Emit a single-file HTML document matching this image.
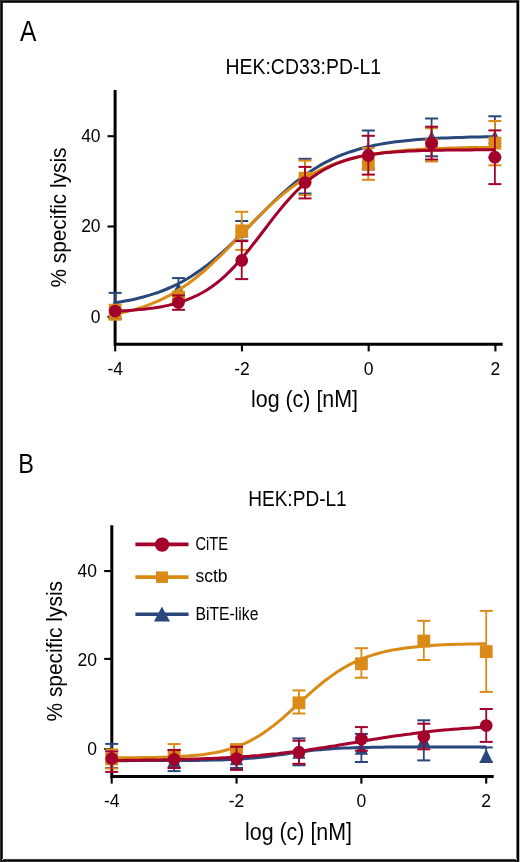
<!DOCTYPE html>
<html><head><meta charset="utf-8"><style>
html,body{margin:0;padding:0;background:#fff;width:520px;height:862px;overflow:hidden}
svg{display:block}
text{font-family:"Liberation Sans",sans-serif;fill:#000}
.t{filter:grayscale(1)}
</style></head><body>
<svg width="520" height="862" viewBox="0 0 520 862">
<g>
<rect x="0" y="0" width="520" height="862" fill="#fff"/>
<rect x="0" y="0" width="520" height="1" fill="#333" shape-rendering="crispEdges"/>
<rect x="0" y="861" width="520" height="1" fill="#333" shape-rendering="crispEdges"/>
<rect x="0" y="0" width="1" height="862" fill="#333" shape-rendering="crispEdges"/>
<rect x="519" y="0" width="1" height="862" fill="#bbb" shape-rendering="crispEdges"/>
<rect x="1" y="1" width="1" height="860" fill="#000" shape-rendering="crispEdges"/>
<rect x="1" y="1" width="517" height="1" fill="#000" shape-rendering="crispEdges"/>
<rect x="517" y="1" width="2" height="860" fill="#000" shape-rendering="crispEdges"/>
<rect x="1" y="860" width="518" height="1" fill="#000" shape-rendering="crispEdges"/>
<rect x="2" y="2" width="1" height="857" fill="#3a3a3a" shape-rendering="crispEdges"/>
<rect x="2" y="2" width="515" height="1" fill="#3a3a3a" shape-rendering="crispEdges"/>
<rect x="516" y="3" width="1" height="856" fill="#777" shape-rendering="crispEdges"/>
<rect x="3" y="859" width="513" height="1" fill="#444" shape-rendering="crispEdges"/>
<rect x="3" y="858" width="513" height="1" fill="#eee" shape-rendering="crispEdges"/>
<text class="t" transform="translate(20,40.9) scale(0.85,1)" font-size="28.9">A</text>
<text class="t" transform="translate(18.2,473.1) scale(0.84,1)" font-size="28">B</text>
<text class="t" x="225.5" y="74.2" font-size="22" text-anchor="start" textLength="155.5" lengthAdjust="spacingAndGlyphs">HEK:CD33:PD-L1</text>
<text class="t" x="248.2" y="506.3" font-size="22" text-anchor="start" textLength="98.5" lengthAdjust="spacingAndGlyphs">HEK:PD-L1</text>
<path d="M115.1,90 V345.6 M113.7,344.2 H502.7" stroke="#000" stroke-width="3" fill="none"/>
<line x1="107.5" y1="136.2" x2="115.2" y2="136.2" stroke="#000" stroke-width="2.1"/>
<line x1="107.5" y1="226.5" x2="115.2" y2="226.5" stroke="#000" stroke-width="2.1"/>
<line x1="107.5" y1="316.85" x2="115.2" y2="316.85" stroke="#000" stroke-width="2.1"/>
<line x1="115.2" y1="344.2" x2="115.2" y2="351.4" stroke="#000" stroke-width="2.1"/>
<line x1="241.94" y1="344.2" x2="241.94" y2="351.4" stroke="#000" stroke-width="2.1"/>
<line x1="368.68" y1="344.2" x2="368.68" y2="351.4" stroke="#000" stroke-width="2.1"/>
<line x1="495.41999999999996" y1="344.2" x2="495.41999999999996" y2="351.4" stroke="#000" stroke-width="2.1"/>
<path d="M111.8,525.2 V777.9 M110.3,776.5 H493.7" stroke="#000" stroke-width="3" fill="none"/>
<line x1="104.2" y1="571.05" x2="111.7" y2="571.05" stroke="#000" stroke-width="2.1"/>
<line x1="104.2" y1="658.9" x2="111.7" y2="658.9" stroke="#000" stroke-width="2.1"/>
<line x1="104.2" y1="749.1" x2="111.7" y2="749.1" stroke="#000" stroke-width="2.1"/>
<line x1="111.7" y1="776.45" x2="111.7" y2="783.6" stroke="#000" stroke-width="2.1"/>
<line x1="236.54000000000002" y1="776.45" x2="236.54000000000002" y2="783.6" stroke="#000" stroke-width="2.1"/>
<line x1="361.38" y1="776.45" x2="361.38" y2="783.6" stroke="#000" stroke-width="2.1"/>
<line x1="486.21999999999997" y1="776.45" x2="486.21999999999997" y2="783.6" stroke="#000" stroke-width="2.1"/>
<text class="t" x="100.6" y="141.7" font-size="17.5" text-anchor="end" >40</text>
<text class="t" x="100.6" y="232.2" font-size="17.5" text-anchor="end" >20</text>
<text class="t" x="100.6" y="322.5" font-size="17.5" text-anchor="end" >0</text>
<text class="t" x="115.2" y="374.9" font-size="17.5" text-anchor="middle" >-4</text>
<text class="t" x="241.94" y="374.9" font-size="17.5" text-anchor="middle" >-2</text>
<text class="t" x="368.68" y="374.9" font-size="17.5" text-anchor="middle" >0</text>
<text class="t" x="495.41999999999996" y="374.9" font-size="17.5" text-anchor="middle" >2</text>
<text class="t" x="97" y="576.7" font-size="17.5" text-anchor="end" >40</text>
<text class="t" x="97" y="666" font-size="17.5" text-anchor="end" >20</text>
<text class="t" x="97" y="754.5" font-size="17.5" text-anchor="end" >0</text>
<text class="t" x="111.7" y="806.9" font-size="17.5" text-anchor="middle" >-4</text>
<text class="t" x="236.54000000000002" y="806.9" font-size="17.5" text-anchor="middle" >-2</text>
<text class="t" x="361.38" y="806.9" font-size="17.5" text-anchor="middle" >0</text>
<text class="t" x="486.21999999999997" y="806.9" font-size="17.5" text-anchor="middle" >2</text>
<text class="t" x="251" y="407.1" font-size="23.2" text-anchor="start" textLength="107" lengthAdjust="spacingAndGlyphs">log (c) [nM]</text>
<text class="t" x="245" y="839.6" font-size="23.1" text-anchor="start" textLength="107" lengthAdjust="spacingAndGlyphs">log (c) [nM]</text>
<text class="t" transform="translate(65.6,287.5) rotate(-90)" font-size="22.3" textLength="140" lengthAdjust="spacingAndGlyphs">% specific lysis</text>
<text class="t" transform="translate(62.3,721.5) rotate(-90)" font-size="22.3" textLength="140.5" lengthAdjust="spacingAndGlyphs">% specific lysis</text>
<polyline points="115.2,302.7 120.0,301.9 124.8,301.1 129.6,300.2 134.4,299.2 139.2,298.0 144.0,296.8 148.8,295.4 153.6,293.9 158.4,292.3 163.2,290.5 168.0,288.5 172.8,286.4 177.6,284.0 182.5,281.5 187.3,278.7 192.1,275.8 196.9,272.6 201.7,269.3 206.5,265.7 211.3,261.9 216.1,257.9 220.9,253.7 225.7,249.3 230.5,244.8 235.3,240.2 240.1,235.4 244.9,230.6 249.7,225.7 254.5,220.8 259.4,215.9 264.2,211.0 269.0,206.2 273.8,201.6 278.6,197.0 283.4,192.6 288.2,188.4 293.0,184.3 297.8,180.5 302.6,176.8 307.4,173.4 312.2,170.2 317.0,167.2 321.8,164.4 326.6,161.8 331.5,159.4 336.3,157.2 341.1,155.2 345.9,153.4 350.7,151.7 355.5,150.2 360.3,148.8 365.1,147.5 369.9,146.4 374.7,145.3 379.5,144.4 384.3,143.5 389.1,142.8 393.9,142.1 398.7,141.5 403.5,140.9 408.4,140.4 413.2,140.0 418.0,139.6 422.8,139.2 427.6,138.9 432.4,138.6 437.2,138.3 442.0,138.1 446.8,137.9 451.6,137.7 456.4,137.5 461.2,137.4 466.0,137.2 470.8,137.1 475.6,137.0 480.5,136.9 485.3,136.8 490.1,136.8 494.9,136.7" fill="none" stroke="#2a477c" stroke-width="3" stroke-linejoin="round"/><line x1="115.16" y1="292.9" x2="115.16" y2="318.7" stroke="#2a477c" stroke-width="1.8"/><line x1="108.66" y1="292.9" x2="121.66" y2="292.9" stroke="#2a477c" stroke-width="2"/><line x1="108.66" y1="318.7" x2="121.66" y2="318.7" stroke="#2a477c" stroke-width="2"/><line x1="178.445" y1="278.1" x2="178.445" y2="299.3" stroke="#2a477c" stroke-width="1.8"/><line x1="171.945" y1="278.1" x2="184.945" y2="278.1" stroke="#2a477c" stroke-width="2"/><line x1="171.945" y1="299.3" x2="184.945" y2="299.3" stroke="#2a477c" stroke-width="2"/><line x1="241.73" y1="221" x2="241.73" y2="240.5" stroke="#2a477c" stroke-width="1.8"/><line x1="235.23" y1="221" x2="248.23" y2="221" stroke="#2a477c" stroke-width="2"/><line x1="235.23" y1="240.5" x2="248.23" y2="240.5" stroke="#2a477c" stroke-width="2"/><line x1="305.015" y1="158.8" x2="305.015" y2="193.5" stroke="#2a477c" stroke-width="1.8"/><line x1="298.515" y1="158.8" x2="311.515" y2="158.8" stroke="#2a477c" stroke-width="2"/><line x1="298.515" y1="193.5" x2="311.515" y2="193.5" stroke="#2a477c" stroke-width="2"/><line x1="368.29999999999995" y1="130.5" x2="368.29999999999995" y2="169.5" stroke="#2a477c" stroke-width="1.8"/><line x1="361.79999999999995" y1="130.5" x2="374.79999999999995" y2="130.5" stroke="#2a477c" stroke-width="2"/><line x1="361.79999999999995" y1="169.5" x2="374.79999999999995" y2="169.5" stroke="#2a477c" stroke-width="2"/><line x1="431.5849999999999" y1="118.5" x2="431.5849999999999" y2="156.3" stroke="#2a477c" stroke-width="1.8"/><line x1="425.0849999999999" y1="118.5" x2="438.0849999999999" y2="118.5" stroke="#2a477c" stroke-width="2"/><line x1="425.0849999999999" y1="156.3" x2="438.0849999999999" y2="156.3" stroke="#2a477c" stroke-width="2"/><line x1="494.87" y1="116.3" x2="494.87" y2="157.7" stroke="#2a477c" stroke-width="1.8"/><line x1="488.37" y1="116.3" x2="501.37" y2="116.3" stroke="#2a477c" stroke-width="2"/><line x1="488.37" y1="157.7" x2="501.37" y2="157.7" stroke="#2a477c" stroke-width="2"/><polygon points="115.16,299.0 121.81,312.6 108.50999999999999,312.6" fill="#2a477c"/><polygon points="178.445,281.9 185.095,295.5 171.795,295.5" fill="#2a477c"/><polygon points="241.73,223.95 248.38,237.55 235.07999999999998,237.55" fill="#2a477c"/><polygon points="305.015,169.35 311.66499999999996,182.95000000000002 298.365,182.95000000000002" fill="#2a477c"/><polygon points="368.29999999999995,143.2 374.94999999999993,156.8 361.65,156.8" fill="#2a477c"/><polygon points="431.5849999999999,130.5 438.2349999999999,144.10000000000002 424.93499999999995,144.10000000000002" fill="#2a477c"/><polygon points="494.87,130.2 501.52,143.8 488.22,143.8" fill="#2a477c"/>
<polyline points="115.2,314.1 120.0,313.1 124.8,312.1 129.6,310.9 134.4,309.6 139.2,308.1 144.0,306.6 148.8,304.8 153.6,302.9 158.4,300.9 163.2,298.6 168.0,296.2 172.8,293.5 177.6,290.6 182.5,287.5 187.3,284.2 192.1,280.7 196.9,276.9 201.7,273.0 206.5,268.8 211.3,264.5 216.1,259.9 220.9,255.3 225.7,250.5 230.5,245.6 235.3,240.6 240.1,235.6 244.9,230.6 249.7,225.6 254.5,220.6 259.4,215.8 264.2,211.1 269.0,206.5 273.8,202.1 278.6,197.8 283.4,193.8 288.2,190.0 293.0,186.4 297.8,183.0 302.6,179.8 307.4,176.9 312.2,174.1 317.0,171.6 321.8,169.3 326.6,167.1 331.5,165.2 336.3,163.4 341.1,161.7 345.9,160.3 350.7,158.9 355.5,157.7 360.3,156.6 365.1,155.6 369.9,154.7 374.7,153.9 379.5,153.2 384.3,152.5 389.1,151.9 393.9,151.4 398.7,150.9 403.5,150.5 408.4,150.1 413.2,149.8 418.0,149.5 422.8,149.2 427.6,148.9 432.4,148.7 437.2,148.5 442.0,148.4 446.8,148.2 451.6,148.1 456.4,147.9 461.2,147.8 466.0,147.7 470.8,147.6 475.6,147.6 480.5,147.5 485.3,147.4 490.1,147.4 494.9,147.3" fill="none" stroke="#da8a16" stroke-width="3" stroke-linejoin="round"/><line x1="115.16" y1="304.8" x2="115.16" y2="319.7" stroke="#da8a16" stroke-width="1.8"/><line x1="108.66" y1="304.8" x2="121.66" y2="304.8" stroke="#da8a16" stroke-width="2"/><line x1="108.66" y1="319.7" x2="121.66" y2="319.7" stroke="#da8a16" stroke-width="2"/><line x1="178.445" y1="292.6" x2="178.445" y2="301.6" stroke="#da8a16" stroke-width="1.8"/><line x1="171.945" y1="292.6" x2="184.945" y2="292.6" stroke="#da8a16" stroke-width="2"/><line x1="171.945" y1="301.6" x2="184.945" y2="301.6" stroke="#da8a16" stroke-width="2"/><line x1="241.73" y1="211.8" x2="241.73" y2="249.9" stroke="#da8a16" stroke-width="1.8"/><line x1="235.23" y1="211.8" x2="248.23" y2="211.8" stroke="#da8a16" stroke-width="2"/><line x1="235.23" y1="249.9" x2="248.23" y2="249.9" stroke="#da8a16" stroke-width="2"/><line x1="305.015" y1="160.6" x2="305.015" y2="195.1" stroke="#da8a16" stroke-width="1.8"/><line x1="298.515" y1="160.6" x2="311.515" y2="160.6" stroke="#da8a16" stroke-width="2"/><line x1="298.515" y1="195.1" x2="311.515" y2="195.1" stroke="#da8a16" stroke-width="2"/><line x1="368.29999999999995" y1="148.1" x2="368.29999999999995" y2="179.8" stroke="#da8a16" stroke-width="1.8"/><line x1="361.79999999999995" y1="148.1" x2="374.79999999999995" y2="148.1" stroke="#da8a16" stroke-width="2"/><line x1="361.79999999999995" y1="179.8" x2="374.79999999999995" y2="179.8" stroke="#da8a16" stroke-width="2"/><line x1="431.5849999999999" y1="128.2" x2="431.5849999999999" y2="161.5" stroke="#da8a16" stroke-width="1.8"/><line x1="425.0849999999999" y1="128.2" x2="438.0849999999999" y2="128.2" stroke="#da8a16" stroke-width="2"/><line x1="425.0849999999999" y1="161.5" x2="438.0849999999999" y2="161.5" stroke="#da8a16" stroke-width="2"/><line x1="494.87" y1="121" x2="494.87" y2="165.3" stroke="#da8a16" stroke-width="1.8"/><line x1="488.37" y1="121" x2="501.37" y2="121" stroke="#da8a16" stroke-width="2"/><line x1="488.37" y1="165.3" x2="501.37" y2="165.3" stroke="#da8a16" stroke-width="2"/><rect x="108.75999999999999" y="305.85" width="12.8" height="12.8" fill="#da8a16"/><rect x="172.045" y="290.70000000000005" width="12.8" height="12.8" fill="#da8a16"/><rect x="235.32999999999998" y="224.45" width="12.8" height="12.8" fill="#da8a16"/><rect x="298.615" y="171.79999999999998" width="12.8" height="12.8" fill="#da8a16"/><rect x="361.9" y="157.7" width="12.8" height="12.8" fill="#da8a16"/><rect x="425.18499999999995" y="138.45" width="12.8" height="12.8" fill="#da8a16"/><rect x="488.47" y="136.75" width="12.8" height="12.8" fill="#da8a16"/>
<polyline points="115.2,311.2 120.0,311.0 124.8,310.7 129.6,310.4 134.4,310.1 139.2,309.6 144.0,309.2 148.8,308.6 153.6,308.0 158.4,307.2 163.2,306.4 168.0,305.4 172.8,304.2 177.6,302.9 182.5,301.4 187.3,299.7 192.1,297.7 196.9,295.5 201.7,293.0 206.5,290.2 211.3,287.0 216.1,283.5 220.9,279.6 225.7,275.3 230.5,270.6 235.3,265.6 240.1,260.3 244.9,254.6 249.7,248.7 254.5,242.5 259.4,236.3 264.2,230.0 269.0,223.6 273.8,217.4 278.6,211.4 283.4,205.5 288.2,200.0 293.0,194.7 297.8,189.8 302.6,185.3 307.4,181.2 312.2,177.4 317.0,174.0 321.8,171.0 326.6,168.3 331.5,165.8 336.3,163.7 341.1,161.8 345.9,160.2 350.7,158.8 355.5,157.5 360.3,156.4 365.1,155.5 369.9,154.7 374.7,154.0 379.5,153.4 384.3,152.8 389.1,152.4 393.9,152.0 398.7,151.7 403.5,151.4 408.4,151.1 413.2,150.9 418.0,150.7 422.8,150.6 427.6,150.5 432.4,150.3 437.2,150.2 442.0,150.2 446.8,150.1 451.6,150.0 456.4,150.0 461.2,149.9 466.0,149.9 470.8,149.9 475.6,149.8 480.5,149.8 485.3,149.8 490.1,149.8 494.9,149.7" fill="none" stroke="#a3002c" stroke-width="3" stroke-linejoin="round"/><line x1="178.445" y1="295.4" x2="178.445" y2="309.8" stroke="#a3002c" stroke-width="1.8"/><line x1="171.945" y1="295.4" x2="184.945" y2="295.4" stroke="#a3002c" stroke-width="2"/><line x1="171.945" y1="309.8" x2="184.945" y2="309.8" stroke="#a3002c" stroke-width="2"/><line x1="241.73" y1="241.1" x2="241.73" y2="279.1" stroke="#a3002c" stroke-width="1.8"/><line x1="235.23" y1="241.1" x2="248.23" y2="241.1" stroke="#a3002c" stroke-width="2"/><line x1="235.23" y1="279.1" x2="248.23" y2="279.1" stroke="#a3002c" stroke-width="2"/><line x1="305.015" y1="166.9" x2="305.015" y2="198.4" stroke="#a3002c" stroke-width="1.8"/><line x1="298.515" y1="166.9" x2="311.515" y2="166.9" stroke="#a3002c" stroke-width="2"/><line x1="298.515" y1="198.4" x2="311.515" y2="198.4" stroke="#a3002c" stroke-width="2"/><line x1="368.29999999999995" y1="135.8" x2="368.29999999999995" y2="174.6" stroke="#a3002c" stroke-width="1.8"/><line x1="361.79999999999995" y1="135.8" x2="374.79999999999995" y2="135.8" stroke="#a3002c" stroke-width="2"/><line x1="361.79999999999995" y1="174.6" x2="374.79999999999995" y2="174.6" stroke="#a3002c" stroke-width="2"/><line x1="431.5849999999999" y1="126.7" x2="431.5849999999999" y2="159.5" stroke="#a3002c" stroke-width="1.8"/><line x1="425.0849999999999" y1="126.7" x2="438.0849999999999" y2="126.7" stroke="#a3002c" stroke-width="2"/><line x1="425.0849999999999" y1="159.5" x2="438.0849999999999" y2="159.5" stroke="#a3002c" stroke-width="2"/><line x1="494.87" y1="130.4" x2="494.87" y2="184.1" stroke="#a3002c" stroke-width="1.8"/><line x1="488.37" y1="130.4" x2="501.37" y2="130.4" stroke="#a3002c" stroke-width="2"/><line x1="488.37" y1="184.1" x2="501.37" y2="184.1" stroke="#a3002c" stroke-width="2"/><circle cx="115.16" cy="311.05" r="6.35" fill="#a3002c"/><circle cx="178.445" cy="302.6" r="6.35" fill="#a3002c"/><circle cx="241.73" cy="260.4" r="6.35" fill="#a3002c"/><circle cx="305.015" cy="182.5" r="6.35" fill="#a3002c"/><circle cx="368.29999999999995" cy="155.4" r="6.35" fill="#a3002c"/><circle cx="431.5849999999999" cy="143.3" r="6.35" fill="#a3002c"/><circle cx="494.87" cy="157.2" r="6.35" fill="#a3002c"/>
<polyline points="111.7,760.7 116.4,760.7 121.2,760.7 125.9,760.7 130.7,760.6 135.4,760.6 140.1,760.6 144.9,760.6 149.6,760.6 154.4,760.6 159.1,760.6 163.8,760.6 168.6,760.6 173.3,760.6 178.1,760.5 182.8,760.5 187.5,760.5 192.3,760.4 197.0,760.4 201.8,760.3 206.5,760.2 211.3,760.1 216.0,760.0 220.7,759.9 225.5,759.7 230.2,759.5 235.0,759.3 239.7,759.0 244.4,758.7 249.2,758.3 253.9,757.9 258.7,757.4 263.4,756.9 268.1,756.4 272.9,755.8 277.6,755.1 282.4,754.5 287.1,753.8 291.8,753.1 296.6,752.4 301.3,751.8 306.1,751.2 310.8,750.6 315.5,750.1 320.3,749.7 325.0,749.3 329.8,748.9 334.5,748.6 339.2,748.3 344.0,748.1 348.7,747.9 353.5,747.7 358.2,747.6 362.9,747.5 367.7,747.4 372.4,747.3 377.2,747.2 381.9,747.2 386.6,747.1 391.4,747.1 396.1,747.1 400.9,747.0 405.6,747.0 410.4,747.0 415.1,747.0 419.8,747.0 424.6,747.0 429.3,747.0 434.1,747.0 438.8,747.0 443.5,746.9 448.3,746.9 453.0,746.9 457.8,746.9 462.5,746.9 467.2,746.9 472.0,746.9 476.7,746.9 481.5,746.9 486.2,746.9" fill="none" stroke="#2a477c" stroke-width="3" stroke-linejoin="round"/><line x1="111.7" y1="743.9" x2="111.7" y2="768" stroke="#2a477c" stroke-width="1.8"/><line x1="105.2" y1="743.9" x2="118.2" y2="743.9" stroke="#2a477c" stroke-width="2"/><line x1="105.2" y1="768" x2="118.2" y2="768" stroke="#2a477c" stroke-width="2"/><line x1="174.12" y1="749.9" x2="174.12" y2="771.1" stroke="#2a477c" stroke-width="1.8"/><line x1="167.62" y1="749.9" x2="180.62" y2="749.9" stroke="#2a477c" stroke-width="2"/><line x1="167.62" y1="771.1" x2="180.62" y2="771.1" stroke="#2a477c" stroke-width="2"/><line x1="236.54000000000002" y1="749" x2="236.54000000000002" y2="768" stroke="#2a477c" stroke-width="1.8"/><line x1="230.04000000000002" y1="749" x2="243.04000000000002" y2="749" stroke="#2a477c" stroke-width="2"/><line x1="230.04000000000002" y1="768" x2="243.04000000000002" y2="768" stroke="#2a477c" stroke-width="2"/><line x1="298.96" y1="738.4" x2="298.96" y2="765.3" stroke="#2a477c" stroke-width="1.8"/><line x1="292.46" y1="738.4" x2="305.46" y2="738.4" stroke="#2a477c" stroke-width="2"/><line x1="292.46" y1="765.3" x2="305.46" y2="765.3" stroke="#2a477c" stroke-width="2"/><line x1="361.38" y1="733.9" x2="361.38" y2="762" stroke="#2a477c" stroke-width="1.8"/><line x1="354.88" y1="733.9" x2="367.88" y2="733.9" stroke="#2a477c" stroke-width="2"/><line x1="354.88" y1="762" x2="367.88" y2="762" stroke="#2a477c" stroke-width="2"/><line x1="423.8" y1="720.3" x2="423.8" y2="760.4" stroke="#2a477c" stroke-width="1.8"/><line x1="417.3" y1="720.3" x2="430.3" y2="720.3" stroke="#2a477c" stroke-width="2"/><line x1="417.3" y1="760.4" x2="430.3" y2="760.4" stroke="#2a477c" stroke-width="2"/><line x1="486.21999999999997" y1="747.4" x2="486.21999999999997" y2="762" stroke="#2a477c" stroke-width="1.8"/><line x1="479.71999999999997" y1="747.4" x2="492.71999999999997" y2="747.4" stroke="#2a477c" stroke-width="2"/><line x1="479.71999999999997" y1="762" x2="492.71999999999997" y2="762" stroke="#2a477c" stroke-width="2"/><polygon points="111.7,749.2 118.35000000000001,762.8 105.05,762.8" fill="#2a477c"/><polygon points="174.12,753.7 180.77,767.3 167.47,767.3" fill="#2a477c"/><polygon points="236.54000000000002,751.7 243.19000000000003,765.3 229.89000000000001,765.3" fill="#2a477c"/><polygon points="298.96,745.0500000000001 305.60999999999996,758.65 292.31,758.65" fill="#2a477c"/><polygon points="361.38,741.1500000000001 368.03,754.75 354.73,754.75" fill="#2a477c"/><polygon points="423.8,733.5500000000001 430.45,747.15 417.15000000000003,747.15" fill="#2a477c"/><polygon points="486.21999999999997,749.0 492.86999999999995,762.5999999999999 479.57,762.5999999999999" fill="#2a477c"/>
<polyline points="111.7,757.8 116.4,757.8 121.2,757.8 125.9,757.7 130.7,757.7 135.4,757.7 140.1,757.6 144.9,757.6 149.6,757.5 154.4,757.4 159.1,757.3 163.8,757.2 168.6,757.0 173.3,756.8 178.1,756.6 182.8,756.3 187.5,756.0 192.3,755.6 197.0,755.2 201.8,754.7 206.5,754.1 211.3,753.3 216.0,752.5 220.7,751.5 225.5,750.3 230.2,748.9 235.0,747.4 239.7,745.6 244.4,743.6 249.2,741.4 253.9,738.8 258.7,736.0 263.4,733.0 268.1,729.6 272.9,726.1 277.6,722.3 282.4,718.3 287.1,714.1 291.8,709.8 296.6,705.5 301.3,701.1 306.1,696.8 310.8,692.6 315.5,688.4 320.3,684.5 325.0,680.7 329.8,677.1 334.5,673.7 339.2,670.6 344.0,667.7 348.7,665.1 353.5,662.6 358.2,660.4 362.9,658.5 367.7,656.7 372.4,655.1 377.2,653.7 381.9,652.4 386.6,651.3 391.4,650.3 396.1,649.4 400.9,648.7 405.6,648.0 410.4,647.4 415.1,646.9 419.8,646.4 424.6,646.0 429.3,645.7 434.1,645.3 438.8,645.1 443.5,644.8 448.3,644.6 453.0,644.5 457.8,644.3 462.5,644.2 467.2,644.1 472.0,643.9 476.7,643.9 481.5,643.8 486.2,643.7" fill="none" stroke="#da8a16" stroke-width="3" stroke-linejoin="round"/><line x1="111.7" y1="749.4" x2="111.7" y2="768.4" stroke="#da8a16" stroke-width="1.8"/><line x1="105.2" y1="749.4" x2="118.2" y2="749.4" stroke="#da8a16" stroke-width="2"/><line x1="105.2" y1="768.4" x2="118.2" y2="768.4" stroke="#da8a16" stroke-width="2"/><line x1="174.12" y1="744.1" x2="174.12" y2="767.9" stroke="#da8a16" stroke-width="1.8"/><line x1="167.62" y1="744.1" x2="180.62" y2="744.1" stroke="#da8a16" stroke-width="2"/><line x1="167.62" y1="767.9" x2="180.62" y2="767.9" stroke="#da8a16" stroke-width="2"/><line x1="236.54000000000002" y1="745" x2="236.54000000000002" y2="754" stroke="#da8a16" stroke-width="1.8"/><line x1="230.04000000000002" y1="745" x2="243.04000000000002" y2="745" stroke="#da8a16" stroke-width="2"/><line x1="230.04000000000002" y1="754" x2="243.04000000000002" y2="754" stroke="#da8a16" stroke-width="2"/><line x1="298.96" y1="690.4" x2="298.96" y2="713.5" stroke="#da8a16" stroke-width="1.8"/><line x1="292.46" y1="690.4" x2="305.46" y2="690.4" stroke="#da8a16" stroke-width="2"/><line x1="292.46" y1="713.5" x2="305.46" y2="713.5" stroke="#da8a16" stroke-width="2"/><line x1="361.38" y1="648.2" x2="361.38" y2="677.7" stroke="#da8a16" stroke-width="1.8"/><line x1="354.88" y1="648.2" x2="367.88" y2="648.2" stroke="#da8a16" stroke-width="2"/><line x1="354.88" y1="677.7" x2="367.88" y2="677.7" stroke="#da8a16" stroke-width="2"/><line x1="423.8" y1="620.8" x2="423.8" y2="660" stroke="#da8a16" stroke-width="1.8"/><line x1="417.3" y1="620.8" x2="430.3" y2="620.8" stroke="#da8a16" stroke-width="2"/><line x1="417.3" y1="660" x2="430.3" y2="660" stroke="#da8a16" stroke-width="2"/><line x1="486.21999999999997" y1="610.9" x2="486.21999999999997" y2="691.9" stroke="#da8a16" stroke-width="1.8"/><line x1="479.71999999999997" y1="610.9" x2="492.71999999999997" y2="610.9" stroke="#da8a16" stroke-width="2"/><line x1="479.71999999999997" y1="691.9" x2="492.71999999999997" y2="691.9" stroke="#da8a16" stroke-width="2"/><rect x="105.3" y="752.5" width="12.8" height="12.8" fill="#da8a16"/><rect x="167.72" y="749.6" width="12.8" height="12.8" fill="#da8a16"/><rect x="230.14000000000001" y="743.1" width="12.8" height="12.8" fill="#da8a16"/><rect x="292.56" y="696.4" width="12.8" height="12.8" fill="#da8a16"/><rect x="354.98" y="657.4" width="12.8" height="12.8" fill="#da8a16"/><rect x="417.40000000000003" y="634.6" width="12.8" height="12.8" fill="#da8a16"/><rect x="479.82" y="645.2" width="12.8" height="12.8" fill="#da8a16"/>
<polyline points="111.7,760.4 116.4,760.4 121.2,760.4 125.9,760.3 130.7,760.3 135.4,760.2 140.1,760.2 144.9,760.1 149.6,760.0 154.4,759.9 159.1,759.9 163.8,759.8 168.6,759.7 173.3,759.6 178.1,759.5 182.8,759.3 187.5,759.2 192.3,759.1 197.0,758.9 201.8,758.8 206.5,758.6 211.3,758.4 216.0,758.2 220.7,757.9 225.5,757.7 230.2,757.4 235.0,757.2 239.7,756.9 244.4,756.5 249.2,756.2 253.9,755.8 258.7,755.5 263.4,755.0 268.1,754.6 272.9,754.1 277.6,753.7 282.4,753.1 287.1,752.6 291.8,752.0 296.6,751.4 301.3,750.8 306.1,750.2 310.8,749.5 315.5,748.8 320.3,748.1 325.0,747.4 329.8,746.6 334.5,745.9 339.2,745.1 344.0,744.3 348.7,743.5 353.5,742.7 358.2,741.9 362.9,741.1 367.7,740.3 372.4,739.5 377.2,738.8 381.9,738.0 386.6,737.3 391.4,736.5 396.1,735.8 400.9,735.2 405.6,734.5 410.4,733.9 415.1,733.2 419.8,732.7 424.6,732.1 429.3,731.6 434.1,731.0 438.8,730.6 443.5,730.1 448.3,729.7 453.0,729.3 457.8,728.9 462.5,728.5 467.2,728.2 472.0,727.9 476.7,727.6 481.5,727.3 486.2,727.1" fill="none" stroke="#a3002c" stroke-width="3" stroke-linejoin="round"/><line x1="111.7" y1="751.4" x2="111.7" y2="771.9" stroke="#a3002c" stroke-width="1.8"/><line x1="105.2" y1="751.4" x2="118.2" y2="751.4" stroke="#a3002c" stroke-width="2"/><line x1="105.2" y1="771.9" x2="118.2" y2="771.9" stroke="#a3002c" stroke-width="2"/><line x1="174.12" y1="750.1" x2="174.12" y2="768" stroke="#a3002c" stroke-width="1.8"/><line x1="167.62" y1="750.1" x2="180.62" y2="750.1" stroke="#a3002c" stroke-width="2"/><line x1="167.62" y1="768" x2="180.62" y2="768" stroke="#a3002c" stroke-width="2"/><line x1="236.54000000000002" y1="746.8" x2="236.54000000000002" y2="769.9" stroke="#a3002c" stroke-width="1.8"/><line x1="230.04000000000002" y1="746.8" x2="243.04000000000002" y2="746.8" stroke="#a3002c" stroke-width="2"/><line x1="230.04000000000002" y1="769.9" x2="243.04000000000002" y2="769.9" stroke="#a3002c" stroke-width="2"/><line x1="298.96" y1="740.7" x2="298.96" y2="763.8" stroke="#a3002c" stroke-width="1.8"/><line x1="292.46" y1="740.7" x2="305.46" y2="740.7" stroke="#a3002c" stroke-width="2"/><line x1="292.46" y1="763.8" x2="305.46" y2="763.8" stroke="#a3002c" stroke-width="2"/><line x1="361.38" y1="727.1" x2="361.38" y2="750.7" stroke="#a3002c" stroke-width="1.8"/><line x1="354.88" y1="727.1" x2="367.88" y2="727.1" stroke="#a3002c" stroke-width="2"/><line x1="354.88" y1="750.7" x2="367.88" y2="750.7" stroke="#a3002c" stroke-width="2"/><line x1="423.8" y1="723.7" x2="423.8" y2="749.3" stroke="#a3002c" stroke-width="1.8"/><line x1="417.3" y1="723.7" x2="430.3" y2="723.7" stroke="#a3002c" stroke-width="2"/><line x1="417.3" y1="749.3" x2="430.3" y2="749.3" stroke="#a3002c" stroke-width="2"/><line x1="486.21999999999997" y1="709" x2="486.21999999999997" y2="741.9" stroke="#a3002c" stroke-width="1.8"/><line x1="479.71999999999997" y1="709" x2="492.71999999999997" y2="709" stroke="#a3002c" stroke-width="2"/><line x1="479.71999999999997" y1="741.9" x2="492.71999999999997" y2="741.9" stroke="#a3002c" stroke-width="2"/><circle cx="111.7" cy="758.5" r="6.35" fill="#a3002c"/><circle cx="174.12" cy="759.3" r="6.35" fill="#a3002c"/><circle cx="236.54000000000002" cy="758.5" r="6.35" fill="#a3002c"/><circle cx="298.96" cy="752.2" r="6.35" fill="#a3002c"/><circle cx="361.38" cy="739" r="6.35" fill="#a3002c"/><circle cx="423.8" cy="736.5" r="6.35" fill="#a3002c"/><circle cx="486.21999999999997" cy="725.5" r="6.35" fill="#a3002c"/>
<line x1="135.4" y1="544.4" x2="188.5" y2="544.4" stroke="#a3002c" stroke-width="3.6"/>
<line x1="135.4" y1="577.1" x2="188.5" y2="577.1" stroke="#da8a16" stroke-width="3.6"/>
<line x1="135.4" y1="614.2" x2="188.5" y2="614.2" stroke="#2a477c" stroke-width="3.6"/>
<circle cx="162.1" cy="544.6" r="7.2" fill="#a3002c"/>
<rect x="156" y="571.4" width="12" height="11.5" fill="#da8a16"/>
<polygon points="161.9,606.4 170,621.6 154,621.6" fill="#2a477c"/>
<text class="t" x="195.5" y="549.8" font-size="17.6" text-anchor="start" textLength="32.6" lengthAdjust="spacingAndGlyphs">CiTE</text>
<text class="t" x="195.5" y="582.3" font-size="17.5" text-anchor="start" >sctb</text>
<text class="t" x="195.5" y="619.6" font-size="17.5" text-anchor="start" textLength="63" lengthAdjust="spacingAndGlyphs">BiTE-like</text>
</g>
</svg></body></html>
